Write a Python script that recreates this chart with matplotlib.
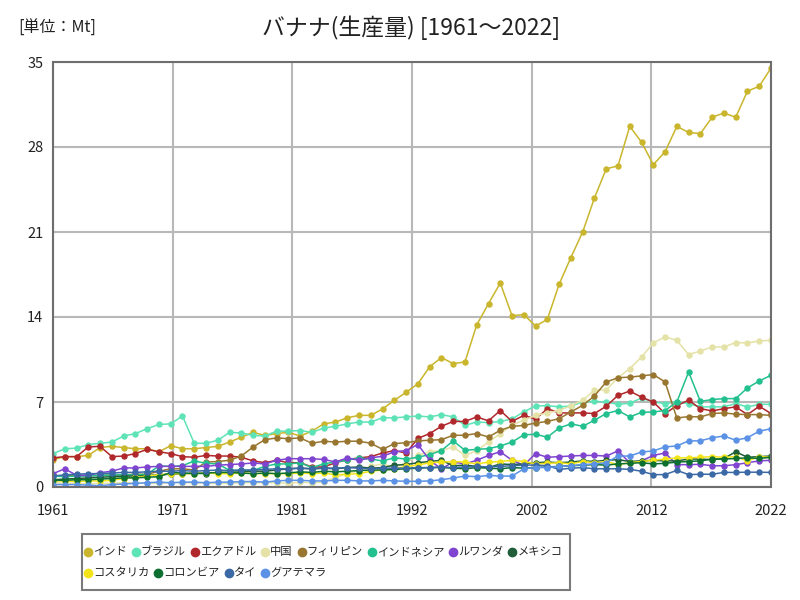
"""Banana production (Mt) of the leading producer countries, 1961-2022."""

import numpy as np
from matplotlib import pyplot as plt
from matplotlib.lines import Line2D
from matplotlib.patches import Rectangle

plt.rcParams["font.family"] = ["Noto Sans CJK JP", "DejaVu Sans"]

YEARS = list(range(1961, 2023))
X_TICK_LABELS = ["1961", "1971", "1981", "1992", "2002", "2012", "2022"]
Y_TICKS = [0, 7, 14, 21, 28, 35]

COUNTRIES = [
    "インド", "ブラジル", "エクアドル", "中国", "フィリピン", "インドネシア",
    "ルワンダ", "メキシコ", "コスタリカ", "コロンビア", "タイ", "グアテマラ",
]
COLORS = [
    "#c9b62c", "#5ee3b7", "#b0282c", "#e4e2a6", "#987630", "#22c08e",
    "#7f44d0", "#1f5e38", "#f2e418", "#0d7030", "#3b69a6", "#5b92e6",
]

india = [
    2.25, 2.5, 2.5, 2.6, 3.25, 3.35, 3.25, 3.15, 3.15, 2.9,
    3.4, 3.15, 3.15, 3.25, 3.35, 3.7, 4.1, 4.5, 4.25, 4.4,
    4.5, 4.2, 4.6, 5.2, 5.35, 5.7, 5.9, 5.9, 6.43, 7.14,
    7.8, 8.5, 9.9, 10.66, 10.16, 10.3, 13.35, 15.1, 16.8, 14.1,
    14.2, 13.26, 13.8, 16.7, 18.9, 21.0, 23.8, 26.2, 26.45, 29.7,
    28.4, 26.55, 27.6, 29.7, 29.2, 29.1, 30.45, 30.8, 30.45, 32.6,
    33.0, 34.5,
]
brazil = [
    2.75, 3.15, 3.2, 3.5, 3.6, 3.7, 4.2, 4.4, 4.8, 5.15,
    5.2, 5.85, 3.6, 3.6, 3.85, 4.5, 4.45, 4.25, 4.2, 4.6,
    4.6, 4.65, 4.5, 4.85, 5.0, 5.2, 5.35, 5.35, 5.7, 5.7,
    5.77, 5.85, 5.77, 5.96, 5.77, 5.08, 5.35, 5.3, 5.4, 5.6,
    6.2, 6.67, 6.7, 6.6, 6.67, 7.0, 7.05, 7.0, 6.8, 6.9,
    7.33, 7.0, 6.87, 7.0, 6.87, 6.6, 6.6, 6.6, 6.87, 6.6,
    6.8, 6.82,
]
ecuador = [
    2.4, 2.5, 2.5, 3.3, 3.35, 2.5, 2.55, 2.75, 3.1, 2.9,
    2.75, 2.5, 2.45, 2.6, 2.55, 2.55, 2.45, 2.15, 2.0, 2.2,
    2.0, 2.0, 1.65, 1.65, 2.0, 2.25, 2.4, 2.5, 2.8, 3.0,
    2.8, 4.0, 4.4, 5.0, 5.4, 5.4, 5.77, 5.45, 6.3, 5.4,
    5.9, 5.6, 6.45, 6.1, 6.1, 6.1, 6.05, 6.65, 7.55, 7.9,
    7.4, 7.0, 6.05, 6.7, 7.15, 6.45, 6.27, 6.45, 6.6, 5.96,
    6.65, 6.05,
]
china = [
    0.35, 0.3, 0.3, 0.25, 0.3, 0.3, 0.35, 0.35, 0.3, 0.3,
    0.35, 0.35, 0.35, 0.3, 0.3, 0.3, 0.35, 0.35, 0.35, 0.35,
    0.3, 0.4, 0.35, 0.4, 0.8, 1.1, 1.37, 1.7, 1.9, 1.6,
    2.0, 2.6, 2.9, 3.0, 3.3, 2.6, 3.0, 3.7, 4.4, 5.1,
    5.5, 5.9, 6.1, 6.3, 6.7, 7.14, 7.96, 8.0, 9.0, 9.75,
    10.7, 11.86, 12.36, 12.08, 10.9, 11.2, 11.53, 11.53, 11.9, 11.86,
    12.03, 12.08,
]
philippines = [
    0.95, 0.9, 0.95, 0.95, 0.95, 1.0, 1.0, 1.05, 1.05, 1.3,
    1.5, 1.5, 1.4, 2.05, 2.1, 2.2, 2.55, 3.3, 3.9, 4.04,
    3.98, 4.04, 3.6, 3.77, 3.7, 3.77, 3.77, 3.6, 3.1, 3.57,
    3.65, 3.8, 3.85, 3.9, 4.26, 4.26, 4.4, 4.12, 4.67, 5.0,
    5.07, 5.27, 5.4, 5.63, 6.18, 6.73, 7.5, 8.65, 9.0, 9.05,
    9.15, 9.26, 8.65, 5.68, 5.8, 5.77, 6.05, 6.1, 6.0, 5.96,
    5.96, 5.9,
]
indonesia = [
    0.9, 0.85, 0.9, 0.9, 0.95, 1.0, 1.0, 1.0, 1.05, 1.73,
    1.7, 1.75, 2.15, 1.95, 1.9, 1.37, 1.37, 1.37, 1.7, 1.9,
    1.9, 2.0, 1.6, 1.9, 2.07, 2.2, 2.4, 2.3, 2.15, 2.4,
    2.3, 2.45, 2.67, 3.0, 3.8, 3.02, 3.1, 3.16, 3.38, 3.7,
    4.3, 4.34, 4.1, 4.86, 5.2, 5.0, 5.5, 6.05, 6.3, 5.77,
    6.15, 6.18, 6.3, 7.0, 9.47, 7.05, 7.2, 7.28, 7.28, 8.16,
    8.73, 9.2,
]
rwanda = [
    1.1, 1.5, 0.96, 0.96, 1.18, 1.3, 1.57, 1.57, 1.65, 1.7,
    1.7, 1.7, 1.7, 1.7, 1.8, 1.85, 1.9, 1.98, 1.9, 2.2,
    2.33, 2.33, 2.33, 2.27, 2.06, 2.4, 2.2, 2.4, 2.53, 2.9,
    3.0, 3.5, 2.2, 1.5, 2.06, 1.9, 2.2, 2.6, 2.9, 2.2,
    1.79, 2.75, 2.45, 2.5, 2.55, 2.6, 2.6, 2.55, 2.97, 2.0,
    2.15, 2.6, 2.8, 1.84, 1.84, 1.87, 1.75, 1.75, 1.84, 2.0,
    2.15, 2.2,
]
mexico = [
    0.6, 0.65, 0.7, 0.75, 0.8, 0.85, 0.9, 0.9, 0.95, 1.0,
    1.05, 1.1, 1.15, 1.1, 1.2, 1.2, 1.25, 1.3, 1.3, 1.4,
    1.5, 1.55, 1.5, 1.55, 1.5, 1.6, 1.65, 1.55, 1.6, 1.8,
    1.85, 2.0, 2.1, 2.2, 1.75, 1.8, 1.7, 1.6, 1.9, 1.85,
    1.9, 2.0, 2.05, 2.0, 2.05, 2.15, 2.1, 2.2, 2.25, 2.1,
    2.15, 2.2, 2.15, 2.15, 2.3, 2.3, 2.25, 2.35, 2.9, 2.45,
    2.5, 2.55,
]
costa_rica = [
    0.5, 0.5, 0.45, 0.5, 0.5, 0.55, 0.7, 0.8, 0.9, 1.0,
    1.1, 1.1, 1.1, 1.15, 1.1, 1.1, 1.15, 1.1, 1.1, 1.1,
    1.1, 1.15, 1.1, 1.15, 1.0, 1.05, 1.1, 1.3, 1.4, 1.5,
    1.7, 1.8, 2.0, 2.05, 2.1, 2.05, 1.9, 2.05, 2.1, 2.2,
    2.1, 1.9, 1.95, 2.0, 1.9, 2.1, 2.0, 2.1, 1.85, 2.0,
    2.1, 2.2, 2.3, 2.4, 2.4, 2.45, 2.5, 2.45, 2.5, 2.15,
    2.5, 2.45,
]
colombia = [
    0.55, 0.55, 0.6, 0.6, 0.65, 0.7, 0.75, 0.75, 0.8, 0.85,
    1.2, 1.15, 1.1, 1.15, 1.2, 1.2, 1.15, 1.1, 1.15, 1.1,
    1.15, 1.25, 1.2, 1.3, 1.25, 1.3, 1.35, 1.4, 1.4, 1.45,
    1.5, 1.55, 1.6, 1.6, 1.55, 1.5, 1.6, 1.55, 1.5, 1.6,
    1.55, 1.6, 1.65, 1.7, 1.75, 1.8, 1.85, 1.8, 1.9, 1.95,
    2.0, 1.9, 1.95, 2.05, 2.1, 2.15, 2.3, 2.3, 2.35, 2.4,
    2.35, 2.45,
]
thailand = [
    0.9, 1.0, 1.05, 1.1, 1.1, 1.15, 1.2, 1.2, 1.25, 1.3,
    1.3, 1.35, 1.3, 1.35, 1.4, 1.35, 1.4, 1.4, 1.45, 1.5,
    1.5, 1.55, 1.5, 1.55, 1.55, 1.6, 1.55, 1.5, 1.55, 1.55,
    1.55, 1.6, 1.6, 1.65, 1.6, 1.65, 1.7, 1.65, 1.7, 1.75,
    1.8, 1.8, 1.75, 1.45, 1.55, 1.6, 1.5, 1.5, 1.5, 1.45,
    1.3, 1.02, 1.02, 1.37, 1.02, 1.05, 1.05, 1.2, 1.2, 1.22,
    1.22, 1.2,
]
guatemala = [
    0.2, 0.2, 0.2, 0.15, 0.1, 0.2, 0.25, 0.3, 0.35, 0.4,
    0.35, 0.4, 0.4, 0.35, 0.4, 0.4, 0.45, 0.45, 0.4, 0.5,
    0.55, 0.55, 0.5, 0.5, 0.55, 0.55, 0.5, 0.5, 0.55, 0.5,
    0.47, 0.47, 0.5, 0.6, 0.74, 0.9, 0.85, 0.95, 0.9, 0.9,
    1.5, 1.6, 1.6, 1.7, 1.75, 1.85, 1.9, 2.0, 2.55, 2.55,
    2.88, 2.97, 3.3, 3.38, 3.8, 3.8, 4.06, 4.2, 3.85, 4.06,
    4.6, 4.8,
]

SERIES = [
    india, brazil, ecuador, china, philippines, indonesia,
    rwanda, mexico, costa_rica, colombia, thailand, guatemala,
]

WIDTH, HEIGHT = 800, 600


def _fx(x_pixel: float) -> float:
    """Pixel column (from the left) to figure fraction."""
    return x_pixel / WIDTH


def _fy(y_pixel: float) -> float:
    """Pixel row (from the top) to figure fraction."""
    return 1 - y_pixel / HEIGHT


def draw_flow_legend(figure, labels, colors, rows) -> None:
    """Legend whose entries run left to right, each as wide as its label."""
    renderer = figure.canvas.get_renderer()
    box_left, box_top, box_bottom = 82, 534, 590
    row_y = [552, 573]
    right_most = 0.0
    start = 0
    for row_index, count in enumerate(rows):
        x_pixel = box_left + 6
        y_pixel = row_y[row_index]
        for label, color in zip(labels[start:start + count], colors[start:start + count]):
            figure.add_artist(
                Line2D(
                    [_fx(x_pixel)], [_fy(y_pixel)], marker="o", markersize=6,
                    color=color, linestyle="none", transform=figure.transFigure,
                )
            )
            text = figure.text(
                _fx(x_pixel + 5), _fy(y_pixel), label, fontsize=8.1,
                ha="left", va="center", color="#222222",
            )
            extent = text.get_window_extent(renderer)
            right_most = max(right_most, extent.x1)
            x_pixel = extent.x1 + 9
        start += count
    figure.add_artist(
        Rectangle(
            (_fx(box_left), _fy(box_bottom)),
            (right_most + 8 - box_left) / WIDTH,
            (box_bottom - box_top) / HEIGHT,
            transform=figure.transFigure, fill=False,
            edgecolor="#7a7a7a", linewidth=1.5,
        )
    )


figure = plt.figure(figsize=(8, 6), dpi=100)
axis = figure.add_axes([_fx(53), _fy(487), (771 - 53) / WIDTH, (487 - 62) / HEIGHT])

for label, color, values in zip(COUNTRIES, COLORS, SERIES):
    axis.plot(
        YEARS, values, color=color, linewidth=1.1, marker="o",
        markersize=3.6, label=label,
    )

axis.set_xlim(YEARS[0], YEARS[-1])
axis.set_ylim(Y_TICKS[0], Y_TICKS[-1])
axis.set_xticks(np.linspace(YEARS[0], YEARS[-1], len(X_TICK_LABELS)))
axis.set_xticklabels(X_TICK_LABELS)
axis.set_yticks(Y_TICKS)
axis.tick_params(axis="both", length=0, labelsize=10.5, colors="#222222")
axis.tick_params(axis="x", pad=12)
axis.tick_params(axis="y", pad=7)
axis.grid(True, color="#b8b8b8", linewidth=1.5)
axis.set_axisbelow(True)
for spine in axis.spines.values():
    spine.set_color("#6e6e6e")
    spine.set_linewidth(1.5)

figure.text(_fx(411), _fy(28), "バナナ(生産量) [1961～2022]", ha="center", va="center",
            fontsize=16.5, color="#222222")
figure.text(_fx(18), _fy(28), "[単位：Mt]", ha="left", va="center",
            fontsize=11.5, color="#222222")

draw_flow_legend(figure, COUNTRIES, COLORS, rows=[8, 4])

figure.savefig("out.png", dpi=100)
